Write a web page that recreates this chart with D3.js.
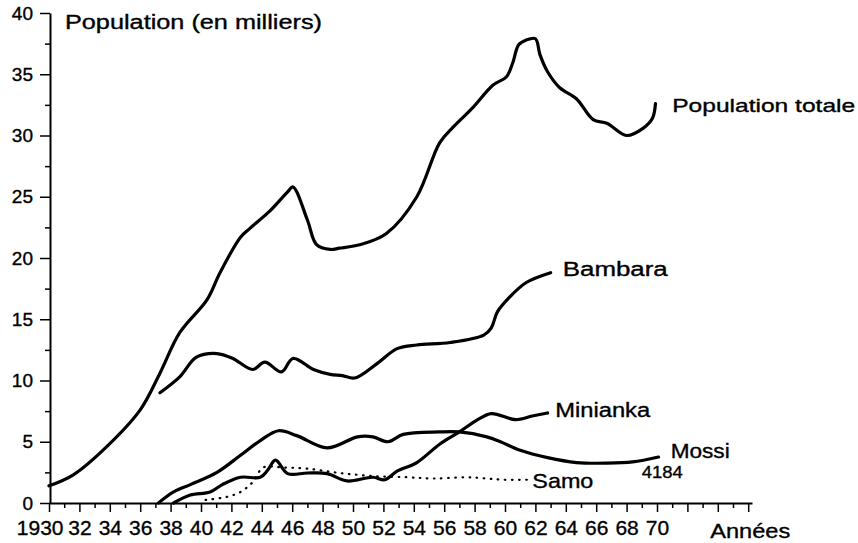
<!DOCTYPE html>
<html>
<head>
<meta charset="utf-8">
<script src="https://cdn.jsdelivr.net/npm/d3@7"></script>
<style>
  body { margin: 0; background: #fff; }
  svg text { font-family: "Liberation Sans Narrow", "Liberation Sans", "DejaVu Sans", sans-serif; fill: #000; stroke: #000; stroke-width: 0.35px; }
</style>
</head>
<body>
<div id="chart"></div>
<script>
// Population (en milliers) par groupe
var totalYears = [1930, 1931.6, 1933.8, 1936, 1937.3, 1938.6, 1940.4, 1941.25, 1942.6, 1943.2, 1944.5, 1945.7, 1946.05, 1947, 1947.6, 1948.5, 1949.1, 1950.5, 1952.2, 1954.2, 1955.7, 1956.6, 1957.9, 1959.2, 1960.1, 1960.5, 1960.9, 1961.4, 1962.0, 1962.3, 1962.8, 1963.6, 1964.7, 1965.8, 1966.7, 1968.0, 1969.1, 1969.7, 1969.9];
var totalValues = [1.4, 2.3, 4.6, 7.6, 10.6, 13.9, 16.6, 18.8, 21.7, 22.4, 23.8, 25.4, 25.8, 23.1, 21.1, 20.7, 20.8, 21.1, 22.0, 25.0, 29.4, 30.7, 32.3, 34.1, 34.8, 35.9, 37.4, 37.8, 37.9, 36.6, 35.2, 33.9, 33.0, 31.3, 31.0, 30.0, 30.6, 31.4, 32.6];

var bambaraYears = [1937.3, 1938.6, 1939.7, 1941.05, 1942.1, 1943.4, 1944.2, 1945.3, 1946.05, 1947.4, 1948.5, 1949.3, 1950.1, 1951.6, 1952.9, 1954.2, 1956.4, 1958.6, 1959.1, 1959.5, 1960.3, 1961.4, 1963.0];
var bambaraValues = [9.0, 10.3, 11.9, 12.2, 11.8, 10.9, 11.5, 10.7, 11.8, 10.9, 10.5, 10.4, 10.2, 11.4, 12.6, 12.9, 13.1, 13.7, 14.3, 15.6, 16.8, 18.0, 18.8];

var mossiYears = [1937.2, 1938.2, 1939.3, 1941.05, 1942.6, 1943.9, 1945.1, 1946.3, 1948.3, 1950.3, 1951.3, 1952.3, 1953.3, 1955.7, 1957.0, 1958.8, 1959.7, 1961.0, 1962.8, 1964.7, 1966.7, 1968.4, 1970.1];
var mossiValues = [0, 0.9, 1.5, 2.5, 3.9, 5.1, 5.9, 5.5, 4.5, 5.4, 5.4, 5.0, 5.6, 5.8, 5.8, 5.4, 5.0, 4.3, 3.7, 3.3, 3.25, 3.35, 3.75];

var miniankaYears = [1938.2, 1939.3, 1940.6, 1941.4, 1942.6, 1943.9, 1944.4, 1944.9, 1945.7, 1947.0, 1948.3, 1949.6, 1951.3, 1952.1, 1952.9, 1954.2, 1955.7, 1957.0, 1958.2, 1959.1, 1960.7, 1961.8, 1962.8];
var miniankaValues = [0, 0.65, 0.9, 1.5, 2.1, 2.1, 2.7, 3.5, 2.4, 2.45, 2.4, 1.8, 2.1, 1.9, 2.6, 3.3, 4.8, 5.8, 6.8, 7.3, 6.8, 7.1, 7.35];

var samoYears = [1940.3, 1941.7, 1942.6, 1943.4, 1944.1, 1945.4, 1947.0, 1949.1, 1951.3, 1953.6, 1955.3, 1957.5, 1958.8, 1959.9, 1961.6];
var samoValues = [0.25, 0.5, 0.9, 1.7, 2.9, 2.9, 2.8, 2.45, 2.2, 2.1, 2.0, 2.1, 2.0, 1.9, 1.9];

// ticks
var yMajor = [0, 5, 10, 15, 20, 25, 30, 35, 40];
var yMinor = [2.5, 7.5, 12.5, 17.5, 22.5, 27.5, 32.5, 37.5];
var xMajor = d3.range(1930, 1977, 2);
var xMinor = d3.range(1931, 1977, 2);
var xLabels = ["1930", "32", "34", "36", "38", "40", "42", "44", "46", "48", "50", "52", "54", "56", "58", "60", "62", "64", "66", "68", "70"];

// annotations: text, year, value
var labelTexts = ["Population (en milliers)", "Population totale", "Bambara", "Minianka", "Mossi", "4184", "Samo", "Années"];
var labelYears = [1931.05, 1971.0, 1963.8, 1963.3, 1970.9, 1969.0, 1961.8, 1973.5];
var labelValues = [38.7, 31.9, 18.5, 7.0, 3.67, 2.04, 1.22, -2.86];

var width = 858, height = 543;

var svg = d3.select("#chart")
  .append("svg")
    .attr("width", width)
    .attr("height", height);

svg.append("rect").attr("width", width).attr("height", height).attr("fill", "#fff");

var x = d3.scaleLinear().domain([1930, 1976.25]).range([49, 752]);
var y = d3.scaleLinear().domain([0, 40]).range([503, 13]);

// X axis, minor ticks first
svg.append("g")
  .attr("transform", "translate(0," + y(0) + ")")
  .call(d3.axisBottom(x).tickValues(xMinor).tickSize(5).tickSizeOuter(0).tickFormat(""))
  .call(function(g) { g.select(".domain").remove(); })
  .selectAll("line").attr("stroke-width", 1.5);

var xAxis = svg.append("g")
  .attr("transform", "translate(0," + y(0) + ")")
  .call(d3.axisBottom(x).tickValues(xMajor).tickSize(9).tickSizeOuter(0)
    .tickFormat(function(d, i) { return xLabels[i] || ""; }));
xAxis.select(".domain").attr("stroke-width", 2);
xAxis.selectAll("line").attr("stroke-width", 1.5);
xAxis.selectAll("text")
  .attr("y", 32).attr("dy", 0)
  .style("font-size", "21px");
xAxis.selectAll("text").filter(function(d) { return d === 1930; })
  .attr("text-anchor", "end").attr("x", 14);

// Y axis
svg.append("g")
  .attr("transform", "translate(50,0)")
  .call(d3.axisLeft(y).tickValues(yMinor).tickSize(5).tickSizeOuter(0).tickFormat(""))
  .call(function(g) { g.select(".domain").remove(); })
  .selectAll("line").attr("stroke-width", 1.5);

var yAxis = svg.append("g")
  .attr("transform", "translate(50,0)")
  .call(d3.axisLeft(y).tickValues(yMajor).tickSize(10).tickSizeOuter(0).tickPadding(7));
yAxis.select(".domain").attr("stroke-width", 2);
yAxis.selectAll("line").attr("stroke-width", 1.5);
yAxis.selectAll("text").style("font-size", "19px");

// lines
var line = d3.line()
  .x(function(d) { return x(d[0]); })
  .y(function(d) { return y(d[1]); })
  .curve(d3.curveCatmullRom.alpha(0.5));

var series = [
  { years: totalYears, values: totalValues, dash: null },
  { years: bambaraYears, values: bambaraValues, dash: null },
  { years: mossiYears, values: mossiValues, dash: null },
  { years: miniankaYears, values: miniankaValues, dash: null },
  { years: samoYears, values: samoValues, dash: "0.6,6.5" }
];

series.forEach(function(s) {
  var pts = s.years.map(function(yr, i) { return [yr, s.values[i]]; });
  svg.append("path")
    .datum(pts)
    .attr("d", line)
    .attr("fill", "none")
    .attr("stroke", "#000")
    .attr("stroke-width", s.dash ? 2.2 : 3.2)
    .attr("stroke-linejoin", "round")
    .attr("stroke-linecap", "round")
    .attr("stroke-dasharray", s.dash);
});

// labels
var labelWidths = [257, 183, 105, 95, 59, 41, 61, 80];
var labelSizes = [20, 19, 20, 20, 20, 17, 21, 21];
labelTexts.forEach(function(t, i) {
  svg.append("text")
    .attr("x", x(labelYears[i]))
    .attr("y", y(labelValues[i]))
    .attr("textLength", labelWidths[i])
    .attr("lengthAdjust", "spacingAndGlyphs")
    .style("font-size", labelSizes[i] + "px")
    .text(t);
});
</script>
</body>
</html>
